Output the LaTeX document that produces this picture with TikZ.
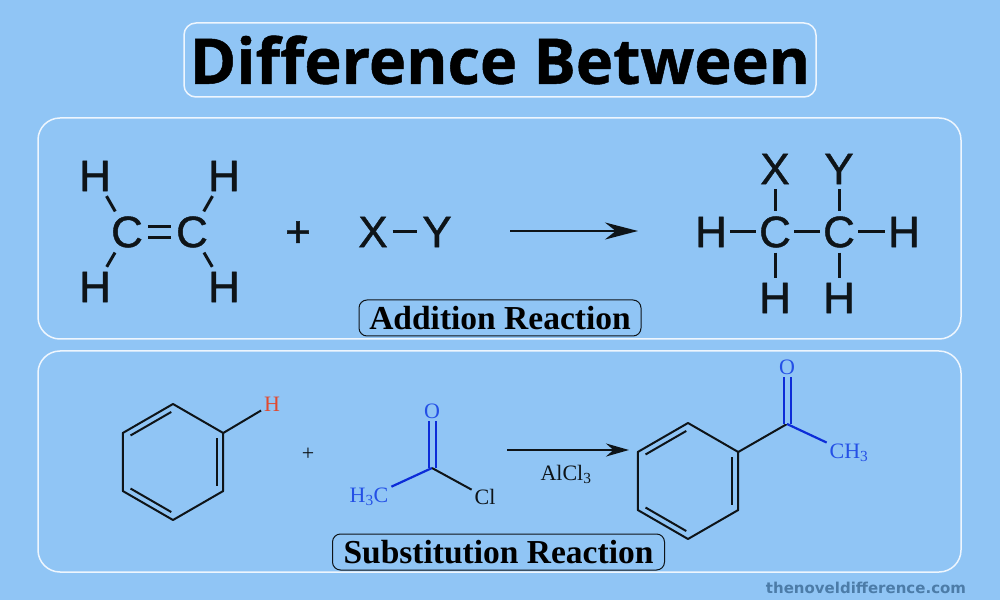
\documentclass[tikz,border=0pt]{standalone}
\usepackage{fontspec}
\usepackage{xcolor}
\setmainfont{Liberation Serif}
\newfontfamily\titlefont[RawFeature={embolden=0.8}]{Open Sans}
\newfontfamily\markfont{DejaVu Sans}
\newfontfamily\atomfont[RawFeature={embolden=1.0}]{Liberation Sans}
\usetikzlibrary{positioning,calc,arrows.meta}
\definecolor{skyback}{HTML}{90C5F5}
\definecolor{inkdark}{HTML}{0E1418}
\definecolor{bondblue}{HTML}{0C2CD8}
\definecolor{textblue}{HTML}{2450E6}
\definecolor{hred}{HTML}{E04A30}
\definecolor{markgrey}{HTML}{4C7CA8}

\begin{document}
\begin{tikzpicture}[x=1pt, y=1pt, on grid]
    \tikzstyle{panel} = [rectangle, draw=white!85!skyback, line width=1.5pt, fill=skyback, rounded corners=22pt, inner sep=0pt, minimum width=923pt, minimum height=221pt]
    \tikzstyle{titlebox} = [rectangle, draw=white!85!skyback, line width=1.5pt, rounded corners=12pt, inner sep=0pt, minimum width=632pt, minimum height=74pt, text=black, font=\titlefont\bfseries\fontsize{63}{63}\selectfont]
    \tikzstyle{tagbox} = [rectangle, draw=inkdark, line width=1pt, rounded corners=8pt, inner sep=0pt, minimum height=36pt, text height=23pt, text depth=0pt, text=black, font=\rmfamily\bfseries\fontsize{33.5}{33.5}\selectfont]
    \tikzstyle{atom} = [inner sep=0pt, outer sep=5pt, text=inkdark, font=\atomfont\fontsize{44}{44}\selectfont]
    \tikzstyle{small} = [inner sep=0pt, outer sep=3pt, text=inkdark, font=\rmfamily\fontsize{22}{22}\selectfont]
    \tikzstyle{bond} = [draw=inkdark, line width=3pt]
    \tikzstyle{thin} = [draw=inkdark, line width=2pt]
    \tikzstyle{blue} = [draw=bondblue, line width=2.2pt]

    \fill [skyback] (0,0) rectangle (1000,600);
    \node [titlebox] (title) at (500,540) {Difference Between};
    \node [panel] (top) at (499.5,371.5) {};
    \node [panel] (bottom) at (499.5,138.5) {};

    % ethene
    \node [atom] (eC1) at (127,368) {C};
    \node [atom, right=65pt of eC1] (eC2) {C};
    \node [atom, above left=56pt and 32pt of eC1] (eH1) {H};
    \node [atom, above right=56pt and 32pt of eC2] (eH2) {H};
    \node [atom, below left=55pt and 32pt of eC1] (eH3) {H};
    \node [atom, below right=55pt and 32pt of eC2] (eH4) {H};
    \path [bond] (eH1) -- (eC1);
    \path [bond] (eH2) -- (eC2);
    \path [bond] (eH3) -- (eC1);
    \path [bond] (eH4) -- (eC2);
    \path [bond, double=skyback, double distance=7.5pt, line width=2.8pt] (eC1) -- (eC2);

    % X-Y
    \node [atom] (plusA) at (298,366) {+};
    \node [atom] (xA) at (373,368) {X};
    \node [atom, right=64pt of xA] (yA) {Y};
    \path [bond] (xA) -- (yA);

    \coordinate (arrA) at (510,369);
    \coordinate (arrB) at (638,369);
    \path [bond, line width=2.5pt, -{Stealth[length=33pt, width=17pt]}] (arrA) -- (arrB);

    % ethane product
    \node [atom, outer xsep=3.5pt] (pC1) at (775,368) {C};
    \node [atom, outer xsep=3.5pt, right=64pt of pC1] (pC2) {C};
    \node [atom, above=63pt of pC1] (pX) {X};
    \node [atom, above=63pt of pC2] (pY) {Y};
    \node [atom, outer xsep=3.5pt, left=64pt of pC1] (pH1) {H};
    \node [atom, outer xsep=3.5pt, right=65pt of pC2] (pH2) {H};
    \node [atom, below=66pt of pC1] (pH3) {H};
    \node [atom, below=66pt of pC2] (pH4) {H};
    \foreach \a/\b in {pH1/pC1, pC1/pC2, pC2/pH2, pX/pC1, pY/pC2, pC1/pH3, pC2/pH4}
        \path [bond] (\a) -- (\b);

    \node [tagbox, minimum width=282pt] (addTag) at (500,282) {Addition Reaction};

    % benzene rings
    \coordinate (ringA) at (173,138);
    \coordinate (ringB) at (688,119);
    \foreach \r in {ringA, ringB} {
        \foreach \v/\ang in {1/30, 2/90, 3/150, 4/210, 5/270, 6/330}
            \coordinate (\r\v) at ($(\r)+(\ang:58)$);
        \path [thin, line join=round] (\r1) -- (\r2) -- (\r3) -- (\r4) -- (\r5) -- (\r6) -- cycle;
        \foreach \a/\b in {2/3, 4/5, 6/1}
            \path [thin, shorten >=2pt, shorten <=2pt] ($(\r)!0.88!(\r\a)$) -- ($(\r)!0.88!(\r\b)$);
    }

    % benzene H
    \node [small, text=hred] (hA) at (272,196) {H};
    \path [thin] (ringA1) -- (hA);

    \node [small] (plusB) at (308,146) {+};

    % acetyl chloride
    \coordinate (acC) at (432,132);
    \node [small, text=textblue] (acO) at (432,189) {O};
    \node [small, text=textblue] (acMe) at (369,103) {H\textsubscript{3}C};
    \node [small] (acCl) at (485,103) {Cl};
    \path [blue, double=skyback, double distance=5pt, line width=2pt] (acO) -- (acC);
    \path [blue] (acMe) -- (acC);
    \path [thin] (acC) -- (acCl);

    \coordinate (arrC) at (507,150);
    \coordinate (arrD) at (629,150);
    \path [thin, -{Stealth[length=23pt, width=13pt]}] (arrC) -- (arrD);
    \node [small] (cat) at (566,126) {AlCl\textsubscript{3}};

    % acetophenone
    \coordinate (keC) at (787,176);
    \node [small, text=textblue] (keO) at (787,233) {O};
    \node [small, text=textblue] (keMe) at (849,147) {CH\textsubscript{3}};
    \path [thin] (ringB1) -- (keC);
    \path [blue, double=skyback, double distance=5pt, line width=2pt] (keO) -- (keC);
    \path [blue] (keC) -- (keMe);

    \node [tagbox, minimum width=332pt] (subTag) at (498.5,48) {Substitution Reaction};
    \node [inner sep=0pt, text=markgrey, font=\markfont\bfseries\fontsize{15}{15}\selectfont] (mark) at (866,12) {thenoveldifference.com};
\end{tikzpicture}
\end{document}
